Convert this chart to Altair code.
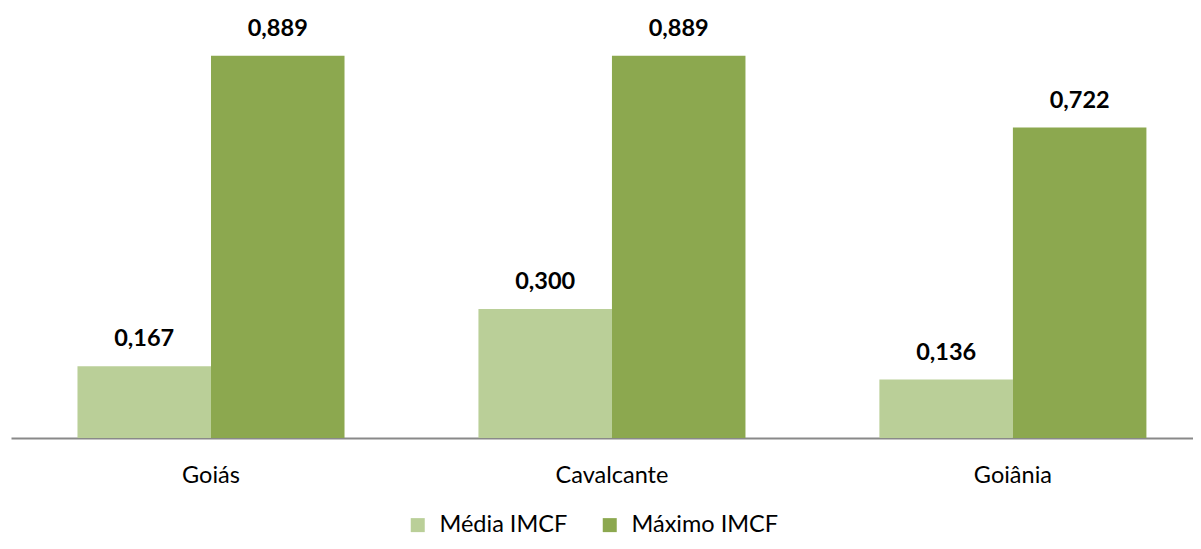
import altair as alt
import pandas as pd

categories = ["Goiás", "Cavalcante", "Goiânia"]
series = ["Média IMCF", "Máximo IMCF"]
media = [0.167, 0.300, 0.136]
maximo = [0.889, 0.889, 0.722]
colors = ["#BACF98", "#8CA84F"]

rows = []
for c, a, b in zip(categories, media, maximo):
    rows.append({"cat": c, "serie": series[0], "value": a})
    rows.append({"cat": c, "serie": series[1], "value": b})
df = pd.DataFrame(rows)

FONT = "Lato"
FS = 23.5

base = alt.Chart(df).encode(
    x=alt.X(
        "cat:N",
        sort=categories,
        scale=alt.Scale(paddingInner=0.334, paddingOuter=0.141, align=0.588),
        axis=alt.Axis(
            title=None,
            labelAngle=0,
            ticks=False,
            grid=False,
            domainColor="#898989",
            domainWidth=2,
            labelFontSize=FS,
            labelFont=FONT,
            labelColor="#000000",
            labelPadding=25,
        ),
    ),
    xOffset=alt.XOffset("serie:N", sort=series, scale=alt.Scale(paddingInner=0, paddingOuter=0)),
    y=alt.Y("value:Q", scale=alt.Scale(domain=[0, 1]), axis=None),
)

bars = base.mark_bar().encode(
    color=alt.Color(
        "serie:N",
        sort=series,
        scale=alt.Scale(domain=series, range=colors),
        legend=alt.Legend(
            title=None,
            orient="none",
            direction="horizontal",
            legendX=395,
            legendY=505,
            symbolType="square",
            symbolSize=196,
            symbolStrokeWidth=0,
            symbolOpacity=1,
            labelFontSize=FS,
            labelFont=FONT,
            labelColor="#000000",
            labelOffset=10,
            columnPadding=30,
        ),
    )
)

labels = base.mark_text(
    baseline="alphabetic",
    dy=-20,
    fontSize=FS,
    fontWeight="bold",
    font=FONT,
    color="#000000",
).encode(text=alt.Text("lbl:N")).transform_calculate(
    lbl="replace(format(datum.value, '.3f'), '.', ',')"
)

chart = (
    alt.layer(bars, labels)
    .properties(
        width=1182,
        height=430,
        padding={"left": 3, "top": 0, "right": 0, "bottom": 103},
        autosize=alt.AutoSizeParams(type="none"),
    )
    .configure_view(stroke=None)
)

chart.save("out.html", embed_options={"renderer": "svg", "actions": False})
